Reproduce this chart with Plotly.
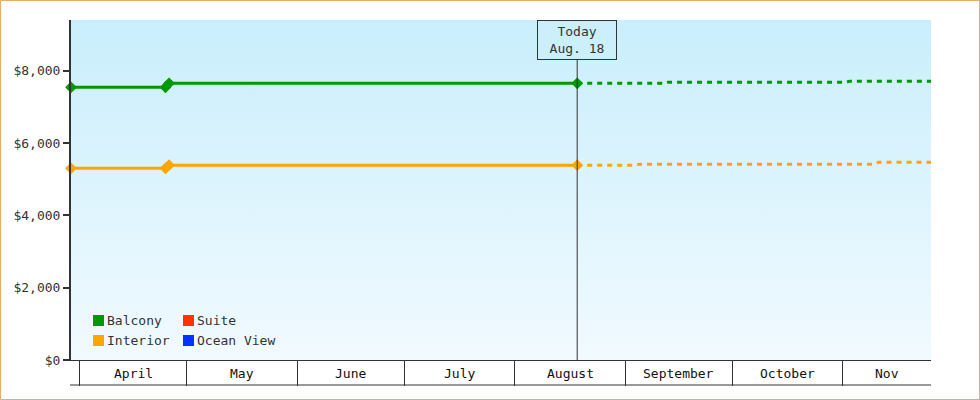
import plotly.graph_objects as go
import pandas as pd

# ---------------- data ----------------
balcony_dates = ["2024-03-29 12:00", "2024-04-25", "2024-04-26", "2024-08-18 12:00"]
balcony_values = [7540, 7540, 7650, 7650]
balcony_fc_dates = ["2024-08-18 12:00", "2024-09-12", "2024-09-13", "2024-11-02", "2024-11-03", "2024-11-25 18:00"]
balcony_fc_values = [7650, 7650, 7680, 7680, 7710, 7710]

interior_dates = ["2024-03-29 12:00", "2024-04-25", "2024-04-26", "2024-08-18 12:00"]
interior_values = [5300, 5300, 5385, 5385]
interior_fc_dates = ["2024-08-18 12:00", "2024-09-04", "2024-09-05", "2024-11-10", "2024-11-11", "2024-11-25 18:00"]
interior_fc_values = [5385, 5385, 5415, 5415, 5470, 5470]

month_starts = ["2024-04-01", "2024-05-01", "2024-06-01", "2024-07-01", "2024-08-01",
                "2024-09-01", "2024-10-01", "2024-11-01", "2024-12-01"]
month_names = ["April", "May", "June", "July", "August", "September", "October", "Nov"]

y_ticks = [0, 2000, 4000, 6000, 8000]
y_tick_text = ["$0", "$2,000", "$4,000", "$6,000", "$8,000"]

series_names = ["Balcony", "Interior", "Suite", "Ocean View"]

today_date = "2024-08-18 12:00"
today_label = "Today<br>Aug. 18"

x_range = ["2024-03-29 12:00", "2024-11-25 18:00"]
y_range = [0, 9400]

# ---------------- style ----------------
FONT = "DejaVu Sans Mono"
TXT = "#333333"
GREEN = "#009900"
ORANGE = "#ffa500"
RED = "#ff3300"
BLUE = "#0033ff"
series_colors = [GREEN, ORANGE, RED, BLUE]

W, H = 980, 400
ML, MR, MT, MB = 71, 49, 20, 40
PW, PH = W - ML - MR, H - MT - MB


def px_x(x):
    return (x - ML) / PW


def px_y(y):
    return (H - MB - y) / PH


fig = go.Figure()

# gradient background
fig.add_trace(go.Scatter(
    x=[x_range[0], x_range[1], x_range[1], x_range[0], x_range[0]],
    y=[y_range[0], y_range[0], y_range[1], y_range[1], y_range[0]],
    mode="lines", line=dict(width=0), fill="toself",
    fillgradient=dict(type="vertical", colorscale=[[0, "#f1faff"], [1, "#c9eefc"]]),
    hoverinfo="skip", showlegend=False,
))

# actual lines
fig.add_trace(go.Scatter(x=balcony_dates, y=balcony_values, mode="lines+markers",
                         line=dict(color=GREEN, width=3), marker=dict(symbol="diamond", size=9, color=GREEN),
                         cliponaxis=False, showlegend=False, name="Balcony"))
fig.add_trace(go.Scatter(x=interior_dates, y=interior_values, mode="lines+markers",
                         line=dict(color=ORANGE, width=3), marker=dict(symbol="diamond", size=9, color=ORANGE),
                         cliponaxis=False, showlegend=False, name="Interior"))
# forecasts
fig.add_trace(go.Scatter(x=balcony_fc_dates, y=balcony_fc_values, mode="lines",
                         line=dict(color=GREEN, width=3, dash="5px,5px"), showlegend=False, name="Balcony forecast"))
fig.add_trace(go.Scatter(x=interior_fc_dates, y=interior_fc_values, mode="lines",
                         line=dict(color=ORANGE, width=3, dash="5px,5px"), showlegend=False, name="Interior forecast"))

# month labels centred in visible part of each month
rs, re_ = pd.Timestamp(x_range[0]), pd.Timestamp(x_range[1])
annotations = []
for i, nm in enumerate(month_names):
    s = max(pd.Timestamp(month_starts[i]), rs)
    e = min(pd.Timestamp(month_starts[i + 1]), re_)
    c = s + (e - s) / 2
    annotations.append(dict(x=c, y=-13 / PH, xref="x", yref="paper", text=nm, showarrow=False,
                            font=dict(family=FONT, size=13, color="#111111"), yanchor="middle"))

annotations.append(dict(x=today_date, y=1, xref="x", yref="paper", yanchor="top", text=today_label,
                        showarrow=False, font=dict(family=FONT, size=13, color=TXT),
                        bordercolor=TXT, borderwidth=1, borderpad=1, width=76, height=36,
                        bgcolor="rgba(0,0,0,0)"))

shapes = [
    # today line
    dict(type="line", xref="x", yref="paper", x0=today_date, x1=today_date, y0=0, y1=(PH - 40) / PH,
         line=dict(color=TXT, width=1)),
    # bottom line of month band
    dict(type="line", xref="paper", yref="paper", x0=-1 / PW, x1=1, y0=-25 / PH, y1=-25 / PH,
         line=dict(color=TXT, width=1)),
    # outer border
    dict(type="rect", xref="paper", yref="paper", x0=px_x(0.5), x1=px_x(W - 0.5),
         y0=px_y(H - 0.5), y1=px_y(0.5), line=dict(color="#e9ab66", width=1)),
]

# legend (2 columns x 2 rows)
leg_cols = [93, 183]
leg_rows = [320.5, 340.5]
for k, (nm, col) in enumerate(zip(series_names, series_colors)):
    cx = leg_cols[k // 2]
    cy = leg_rows[k % 2]
    shapes.append(dict(type="rect", xref="paper", yref="paper", x0=px_x(cx), x1=px_x(cx + 11),
                       y0=px_y(cy + 5.5), y1=px_y(cy - 5.5), fillcolor=col, line=dict(width=0)))
    annotations.append(dict(x=px_x(cx + 12), y=px_y(cy), xref="paper", yref="paper", text=nm,
                            showarrow=False, xanchor="left", yanchor="middle",
                            font=dict(family=FONT, size=13, color=TXT)))

fig.update_layout(
    width=W, height=H, margin=dict(l=ML, r=MR, t=MT, b=MB),
    paper_bgcolor="white", plot_bgcolor="#f1faff",
    font=dict(family=FONT, size=13, color=TXT),
    xaxis=dict(type="date", range=x_range, showgrid=False, zeroline=False,
               showline=True, linecolor=TXT, linewidth=1,
               tickvals=month_starts, ticks="outside", ticklen=25, tickcolor=TXT, tickwidth=1,
               showticklabels=False),
    yaxis=dict(range=y_range, showgrid=False, zeroline=False, showline=True, linecolor=TXT, linewidth=2,
               tickvals=y_ticks, ticktext=y_tick_text, ticks="outside", ticklen=6, tickwidth=2,
               tickcolor=TXT, tickfont=dict(family=FONT, size=13, color=TXT)),
    annotations=annotations, shapes=shapes, showlegend=False,
)

fig.write_html("out.html", config={"displayModeBar": False},
               post_script="document.body.style.margin='0';")
